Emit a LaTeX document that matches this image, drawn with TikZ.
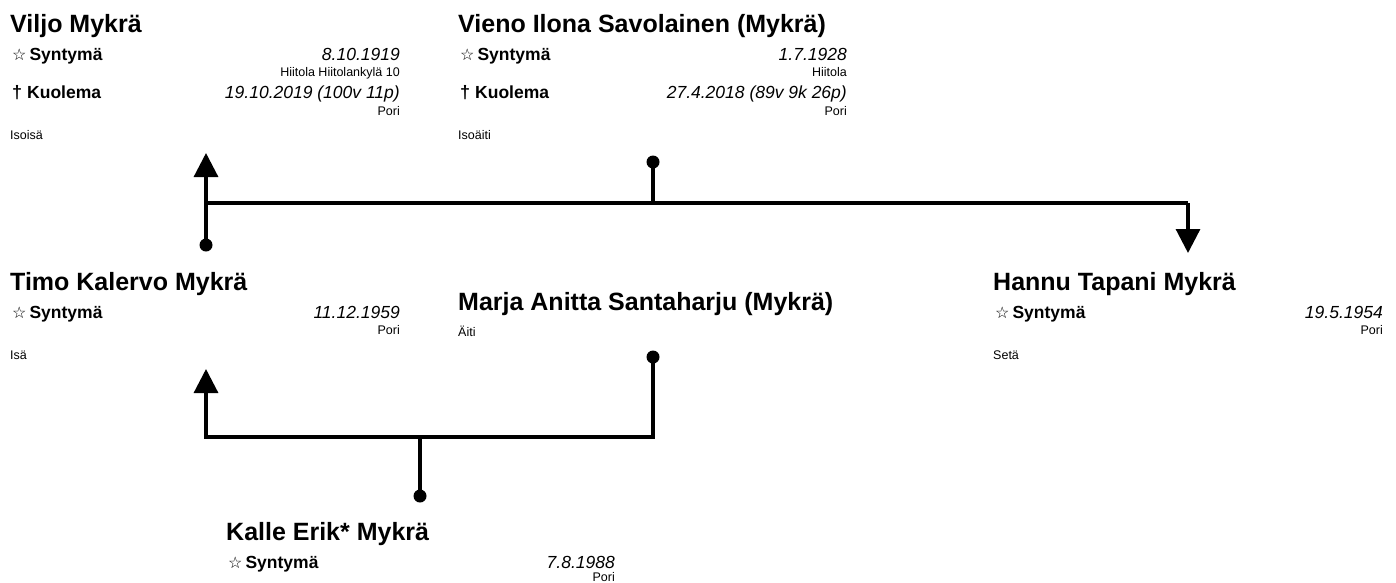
\documentclass[tikz,border=0pt]{standalone}
\usepackage{fontspec}
\setmainfont{Liberation Sans}
\newfontfamily\symfont{DejaVu Sans}
\usetikzlibrary{arrows.meta}
\newcommand{\starsym}{{\symfont\fontsize{16}{16}\selectfont ☆}\hspace{3pt}}
\newcommand{\daggsym}{{\fontsize{18}{18}\selectfont †}\hspace{5pt}}
\tikzset{
  pname/.style={anchor=base west, inner sep=0pt, font=\bfseries\fontsize{25}{30}\selectfont},
  plabel/.style={anchor=base west, inner sep=0pt, font=\bfseries\fontsize{17.5}{21}\selectfont},
  pdate/.style={anchor=base east, inner sep=0pt, font=\itshape\fontsize{17.5}{21}\selectfont},
  pplace/.style={anchor=base east, inner sep=0pt, font=\fontsize{12.5}{15}\selectfont},
  prole/.style={anchor=base west, inner sep=0pt, font=\fontsize{12.5}{15}\selectfont},
  dot/.style={circle, fill=black, inner sep=0pt, minimum size=13pt},
  conn/.style={line width=3.2pt, black},
  tip/.style={-{Triangle[width=24pt,length=24pt]}}
}
\begin{document}
\begin{tikzpicture}[x=1pt,y=-1pt]
\useasboundingbox (0,0) rectangle (1396,582);
% Viljo
\node[pname] (viljo) at (10,32) {Viljo Mykrä};
\node[plabel] (viljoBl) at (12,60) {\starsym Syntymä};
\node[pdate] (viljoBd) at (400,60) {8.10.1919};
\node[pplace] (viljoBp) at (400,76) {Hiitola Hiitolankylä 10};
\node[plabel] (viljoDl) at (12,98) {\daggsym Kuolema};
\node[pdate] (viljoDd) at (400,98) {19.10.2019 (100v 11p)};
\node[pplace] (viljoDp) at (400,115) {Pori};
\node[prole] (viljoR) at (10,139) {Isoisä};
% Vieno
\node[pname] (vieno) at (458,32) {Vieno Ilona Savolainen (Mykrä)};
\node[plabel] (vienoBl) at (460,60) {\starsym Syntymä};
\node[pdate] (vienoBd) at (847,60) {1.7.1928};
\node[pplace] (vienoBp) at (847,76) {Hiitola};
\node[plabel] (vienoDl) at (460,98) {\daggsym Kuolema};
\node[pdate] (vienoDd) at (847,98) {27.4.2018 (89v 9k 26p)};
\node[pplace] (vienoDp) at (847,115) {Pori};
\node[prole] (vienoR) at (458,139) {Isoäiti};
% Timo
\node[pname] (timo) at (10,290) {Timo Kalervo Mykrä};
\node[plabel] (timoBl) at (12,318) {\starsym Syntymä};
\node[pdate] (timoBd) at (400,318) {11.12.1959};
\node[pplace] (timoBp) at (400,334) {Pori};
\node[prole] (timoR) at (10,359) {Isä};
% Marja
\node[pname] (marja) at (458,310) {Marja Anitta Santaharju (Mykrä)};
\node[prole] (marjaR) at (458,336) {Äiti};
% Hannu
\node[pname] (hannu) at (993,290) {Hannu Tapani Mykrä};
\node[plabel] (hannuBl) at (995,318) {\starsym Syntymä};
\node[pdate] (hannuBd) at (1383,318) {19.5.1954};
\node[pplace] (hannuBp) at (1383,334) {Pori};
\node[prole] (hannuR) at (993,359) {Setä};
% Kalle
\node[pname] (kalle) at (226,540) {Kalle Erik* Mykrä};
\node[plabel] (kalleBl) at (228,568) {\starsym Syntymä};
\node[pdate] (kalleBd) at (615,568) {7.8.1988};
\node[pplace] (kalleBp) at (615,581.5) {Pori};
% connectors, upper family
\node[dot] (dTimo) at (206,245) {};
\node[dot] (dVieno) at (653,162) {};
\coordinate (tViljo) at (206,153);
\coordinate (jTop) at (206,203);
\coordinate (jVieno) at (653,203);
\coordinate (jHannu) at (1188,203);
\coordinate (tHannu) at (1188,253);
\draw[conn] (jTop) -- (jHannu);
\draw[conn] (dVieno.center) -- (jVieno);
\draw[conn,tip] (dTimo.center) -- (tViljo);
\draw[conn,tip] (jHannu) -- (tHannu);
% connectors, lower family
\node[dot] (dMarja) at (653,357) {};
\node[dot] (dKalle) at (420,496) {};
\coordinate (cRight) at (653,437);
\coordinate (cLeft) at (206,437);
\coordinate (jKalle) at (420,437);
\coordinate (tTimo) at (206,369);
\draw[conn,tip] (dMarja.center) -- (cRight) -- (cLeft) -- (tTimo);
\draw[conn] (jKalle) -- (dKalle.center);
\end{tikzpicture}
\end{document}
